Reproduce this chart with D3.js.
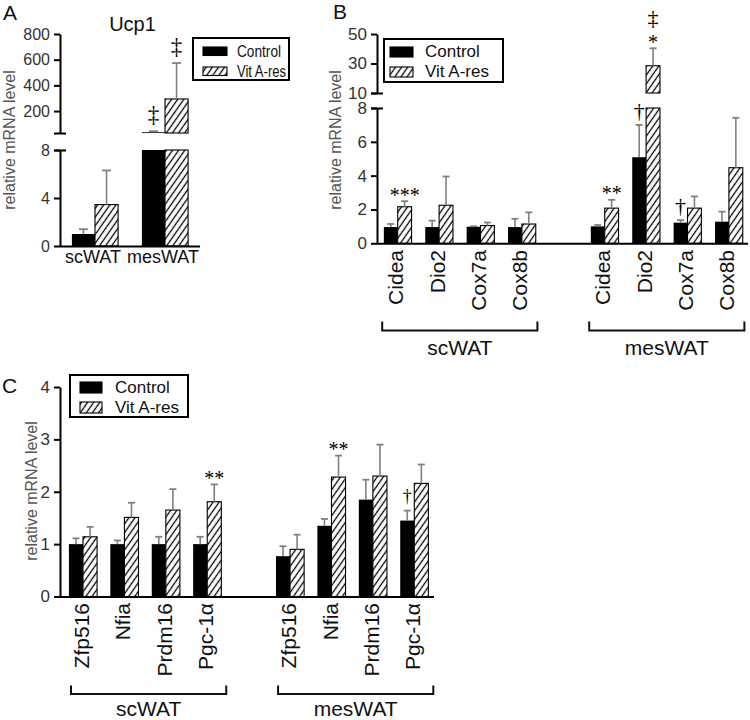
<!DOCTYPE html>
<html><head><meta charset="utf-8">
<script src="https://cdn.jsdelivr.net/npm/d3@7"></script>
<style>body{margin:0;background:#fff} svg text{font-family:Arial,"Liberation Sans",sans-serif}</style>
</head><body><svg id="c" width="750" height="720"></svg>
<script>
// ---------------- data ----------------
const seriesNames = ["Control", "Vit A-res"];

// Panel A: Ucp1
const ucp1Tissues = ["scWAT", "mesWAT"];
const ucp1Control = [1.0, 35];
const ucp1ControlSem = [0.4, 8];
const ucp1VitA = [3.45, 294];
const ucp1VitASem = [2.85, 280];
const ucp1LowerTicks = [0, 4, 8];
const ucp1UpperTicks = [200, 400, 600, 800];

// Panel B: thermogenic genes
const thermoGenes = ["Cidea", "Dio2", "Cox7a", "Cox8b"];
const thermoScControl = [0.96, 0.96, 0.98, 0.96];
const thermoScControlSem = [0.18, 0.38, 0.03, 0.49];
const thermoScVitA = [2.16, 2.25, 1.05, 1.14];
const thermoScVitASem = [0.33, 1.70, 0.18, 0.69];
const thermoMesControl = [1.0, 5.09, 1.22, 1.28];
const thermoMesControlSem = [0.08, 1.91, 0.15, 0.59];
const thermoMesVitA = [2.08, 28.5, 2.08, 4.47];
const thermoMesVitASem = [0.49, 11.8, 0.69, 2.95];
const thermoLowerTicks = [0, 2, 4, 6, 8];
const thermoUpperTicks = [10, 30, 50];

// Panel C: transcription factors
const tfGenes = ["Zfp516", "Nfia", "Prdm16", "Pgc-1\u03b1"];
const tfScControl = [1.0, 1.0, 1.0, 1.0];
const tfScControlSem = [0.11, 0.07, 0.14, 0.14];
const tfScVitA = [1.14, 1.51, 1.65, 1.81];
const tfScVitASem = [0.19, 0.28, 0.40, 0.33];
const tfMesControl = [0.77, 1.35, 1.85, 1.45];
const tfMesControlSem = [0.19, 0.13, 0.38, 0.19];
const tfMesVitA = [0.90, 2.28, 2.30, 2.16];
const tfMesVitASem = [0.28, 0.41, 0.60, 0.36];
const tfTicks = [0, 1, 2, 3, 4];

const tissues = ["scWAT", "mesWAT"];

// significance marks: [slot, series index, lines top->bottom]
const ucp1Marks = [["mesWAT", 0, ["\u2021"]], ["mesWAT", 1, ["\u2021"]]];
const thermoMarks = [["scWAT|Cidea", 1, ["***"]], ["mesWAT|Cidea", 1, ["**"]],
  ["mesWAT|Dio2", 0, ["\u2020"]], ["mesWAT|Dio2", 1, ["\u2021", "*"]], ["mesWAT|Cox7a", 0, ["\u2020"]]];
const tfMarks = [["scWAT|Pgc-1\u03b1", 1, ["**"]], ["mesWAT|Nfia", 1, ["**"]], ["mesWAT|Pgc-1\u03b1", 0, ["\u2020"]]];

// ---------------- drawing ----------------
const svg = d3.select("#c");
const defs = svg.append("defs");
const pat = defs.append("pattern").attr("id", "hatch").attr("patternUnits", "userSpaceOnUse")
  .attr("width", 5).attr("height", 10).attr("patternTransform", "rotate(35)");
pat.append("rect").attr("width", 5).attr("height", 10).attr("fill", "#fff");
pat.append("line").attr("x1", 2.5).attr("y1", -1).attr("x2", 2.5).attr("y2", 11).attr("stroke", "#000").attr("stroke-width", 1.3);

const fills = ["#000", "url(#hatch)"];
const errColor = "#808080";

function yAxis(scale, ticks, fs, xPos) {
  const ax = svg.append("g").attr("transform", `translate(${xPos},0)`)
    .call(d3.axisLeft(scale).tickValues(ticks).tickSize(6).tickSizeOuter(0).tickPadding(4).tickFormat(d3.format("d")));
  ax.attr("font-family", null).attr("font-size", null);
  ax.select(".domain").attr("stroke", "#000").attr("stroke-width", 2);
  ax.selectAll(".tick line").attr("stroke", "#000").attr("stroke-width", 2);
  ax.selectAll(".tick text").attr("font-size", fs).attr("fill", "#333");
  return ax;
}

function hline(x1, x2, y, w) {
  svg.append("line").attr("x1", x1).attr("x2", x2).attr("y1", y).attr("y2", y)
    .attr("stroke", "#000").attr("stroke-width", w || 2);
}

// recs: [{slot, vals, sems}] ; seg: {lower, lowerMax, upper, upperMin}
function drawBars(recs, x, pairFrac, seg, capW) {
  const bw = x.bandwidth() * pairFrac / 2;
  const g = svg.append("g");
  const pos = {};
  recs.forEach(r => {
    r.vals.forEach((v, k) => {
      const x0 = x(r.slot) + x.bandwidth() / 2 - bw + k * bw;
      const cx = x0 + bw / 2;
      const pieces = [];
      let sc;
      if (!seg.upper || v <= seg.lowerMax) {
        pieces.push([seg.lower(v), seg.lower(0)]);
        sc = seg.lower;
      } else {
        pieces.push([seg.lower(seg.lowerMax), seg.lower(0)]);
        pieces.push([seg.upper(v), seg.upper(seg.upperMin)]);
        sc = seg.upper;
      }
      pieces.forEach(p => {
        g.append("rect").attr("x", x0).attr("y", p[0]).attr("width", bw).attr("height", Math.max(0.8, p[1] - p[0]))
          .attr("fill", fills[k]).attr("stroke", k === 1 ? "#000" : "none").attr("stroke-width", 1.1);
      });
      const y1 = sc(v), y2 = sc(v + r.sems[k]);
      g.append("line").attr("x1", cx).attr("x2", cx).attr("y1", y1).attr("y2", y2).attr("stroke", errColor).attr("stroke-width", 1.6);
      g.append("line").attr("x1", cx - capW / 2).attr("x2", cx + capW / 2).attr("y1", y2).attr("y2", y2).attr("stroke", errColor).attr("stroke-width", 1.8);
      pos[r.slot + "#" + k] = {cx, errY: y2};
    });
  });
  return pos;
}

function drawMarks(marks, pos, daggerSize) {
  marks.forEach(([slot, k, lines]) => {
    const p = pos[slot + "#" + k];
    let c = null;
    for (let i = lines.length - 1; i >= 0; i--) {
      const t = lines[i];
      const isStar = t[0] === "*";
      const off = isStar ? 9 : (t === "\u2021" ? 15 : 13);
      c = (c === null) ? p.errY - off : c - 20;
      const fs = isStar ? 20 : daggerSize;
      const base = c + (isStar ? 0.47 : 0.27) * fs;
      svg.append("text").attr("x", p.cx).attr("y", base).attr("text-anchor", "middle")
        .style("font-family", "'Liberation Serif','Times New Roman',serif").attr("font-size", fs).attr("fill", "#000").text(t);
    }
  });
}

function legend(x, y, w, h, rx, rw, rh, r1y, r2y, tx, t1y, t2y, fs, squeeze) {
  svg.append("rect").attr("x", x).attr("y", y).attr("width", w).attr("height", h)
    .attr("fill", "#fff").attr("stroke", "#000").attr("stroke-width", 2);
  [r1y, r2y].forEach((ry, k) => svg.append("rect").attr("x", rx).attr("y", ry).attr("width", rw).attr("height", rh)
    .attr("fill", fills[k]).attr("stroke", "#000").attr("stroke-width", 1.1));
  [t1y, t2y].forEach((ty, k) => {
    const t = svg.append("text").attr("x", tx).attr("y", ty).attr("font-size", fs).attr("fill", "#111").text(seriesNames[k]);
    if (squeeze) t.attr("textLength", squeeze[k]).attr("lengthAdjust", "spacingAndGlyphs");
  });
}

function yTitle(x, y, fs) {
  svg.append("text").attr("transform", `translate(${x},${y}) rotate(-90)`).attr("text-anchor", "middle")
    .attr("font-size", fs).attr("fill", "#555").text("relative mRNA level");
}

function panelLetter(t, x, y) {
  svg.append("text").attr("x", x).attr("y", y).attr("font-size", 21).attr("fill", "#111").text(t);
}

// ===== Panel A =====
{
  const x = d3.scaleBand().domain(ucp1Tissues).range([60, 200]);
  const lower = d3.scaleLinear().domain([0, 8]).range([246, 150]);
  const upper = d3.scaleLinear().domain([29, 800]).range([133, 34]);
  const recs = ucp1Tissues.map((t, i) => ({slot: t, vals: [ucp1Control[i], ucp1VitA[i]], sems: [ucp1ControlSem[i], ucp1VitASem[i]]}));
  const pos = drawBars(recs, x, 0.66, {lower, lowerMax: 8, upper, upperMin: 29}, 9);
  yAxis(lower, ucp1LowerTicks, 16, 60);
  yAxis(upper, ucp1UpperTicks, 16, 60);
  hline(54, 66, 133.5);
  hline(54, 66, 150.5);
  hline(60, 200, 246.5);
  ucp1Tissues.forEach(t => svg.append("text").attr("x", x(t) + x.bandwidth() / 2 - 2).attr("y", 262.5)
    .attr("text-anchor", "middle").attr("font-size", 18).attr("fill", "#111").text(t));
  drawMarks(ucp1Marks, pos, 23);
  svg.append("text").attr("x", 132.5).attr("y", 31).attr("text-anchor", "middle").attr("font-size", 20).attr("fill", "#111").text("Ucp1");
  legend(193, 38, 96, 42, 203, 24, 8.5, 47, 67, 237, 56.5, 76.5, 16, [44, 49]);
  yTitle(15, 140, 16);
  panelLetter("A", 3, 20);
}

// ===== Panel B =====
function slotsFor(genes) {
  return genes.map(g => "scWAT|" + g).concat(["gap"], genes.map(g => "mesWAT|" + g));
}
{
  const slots = slotsFor(thermoGenes);
  const x = d3.scaleBand().domain(slots).range([377, 749.6]);
  const lower = d3.scaleLinear().domain([0, 8]).range([243.3, 108]);
  const upper = d3.scaleLinear().domain([10, 50]).range([93, 34]);
  const recs = [];
  thermoGenes.forEach((g, i) => recs.push({slot: "scWAT|" + g, vals: [thermoScControl[i], thermoScVitA[i]], sems: [thermoScControlSem[i], thermoScVitASem[i]]}));
  thermoGenes.forEach((g, i) => recs.push({slot: "mesWAT|" + g, vals: [thermoMesControl[i], thermoMesVitA[i]], sems: [thermoMesControlSem[i], thermoMesVitASem[i]]}));
  const pos = drawBars(recs, x, 0.67, {lower, lowerMax: 8, upper, upperMin: 10}, 7);
  yAxis(lower, thermoLowerTicks, 17, 377);
  yAxis(upper, thermoUpperTicks, 17, 377);
  hline(371, 383, 93.5);
  hline(371, 383, 108.5);
  hline(377, 748, 243.8);
  slots.filter(s => s !== "gap").forEach(s => {
    const cx = x(s) + x.bandwidth() / 2 - 2;
    svg.append("text").attr("transform", `translate(${cx},250) rotate(-90)`).attr("dy", "0.36em")
      .attr("text-anchor", "end").attr("font-size", 21).attr("fill", "#111").text(s.split("|")[1]);
  });
  tissues.forEach(t => {
    const first = x(t + "|" + thermoGenes[0]) + x.bandwidth() / 2 - 15.5;
    const last = x(t + "|" + thermoGenes[thermoGenes.length - 1]) + x.bandwidth() / 2 + 15.5;
    svg.append("path").attr("d", `M${first},321.5V330.5H${last}V321.5`).attr("fill", "none").attr("stroke", "#111").attr("stroke-width", 2);
    svg.append("text").attr("x", (first + last) / 2).attr("y", 355).attr("text-anchor", "middle").attr("font-size", 21).attr("fill", "#111").text(t);
  });
  drawMarks(thermoMarks, pos, 22);
  legend(384, 39, 119, 43, 390, 23, 10, 47, 67, 425, 57, 77, 17);
  yTitle(341, 140, 16);
  panelLetter("B", 333, 19);
}

// ===== Panel C =====
{
  const slots = slotsFor(tfGenes);
  const x = d3.scaleBand().domain(slots).range([62.3, 435]);
  const y = d3.scaleLinear().domain([0, 4]).range([596.5, 387]);
  const recs = [];
  tfGenes.forEach((g, i) => recs.push({slot: "scWAT|" + g, vals: [tfScControl[i], tfScVitA[i]], sems: [tfScControlSem[i], tfScVitASem[i]]}));
  tfGenes.forEach((g, i) => recs.push({slot: "mesWAT|" + g, vals: [tfMesControl[i], tfMesVitA[i]], sems: [tfMesControlSem[i], tfMesVitASem[i]]}));
  const pos = drawBars(recs, x, 0.68, {lower: y, lowerMax: 4, upper: null}, 7);
  yAxis(y, tfTicks, 17, 60);
  hline(60, 434, 597);
  slots.filter(s => s !== "gap").forEach(s => {
    const cx = x(s) + x.bandwidth() / 2 - 1.5;
    svg.append("text").attr("transform", `translate(${cx},603) rotate(-90)`).attr("dy", "0.36em")
      .attr("text-anchor", "end").attr("font-size", 21).attr("fill", "#111").text(s.split("|")[1]);
  });
  tissues.forEach(t => {
    const first = x(t + "|" + tfGenes[0]) + x.bandwidth() / 2 - 12;
    const last = x(t + "|" + tfGenes[tfGenes.length - 1]) + x.bandwidth() / 2 + 19;
    svg.append("path").attr("d", `M${first},685.5V694H${last}V685.5`).attr("fill", "none").attr("stroke", "#111").attr("stroke-width", 2);
    svg.append("text").attr("x", (first + last) / 2).attr("y", 715.5).attr("text-anchor", "middle").attr("font-size", 21).attr("fill", "#111").text(t);
  });
  drawMarks(tfMarks, pos, 18);
  legend(70, 375, 118, 42, 80, 22, 11, 382, 402, 115, 392.5, 412.5, 17);
  yTitle(37, 491, 16);
  panelLetter("C", 2, 393);
}
</script></body></html>
